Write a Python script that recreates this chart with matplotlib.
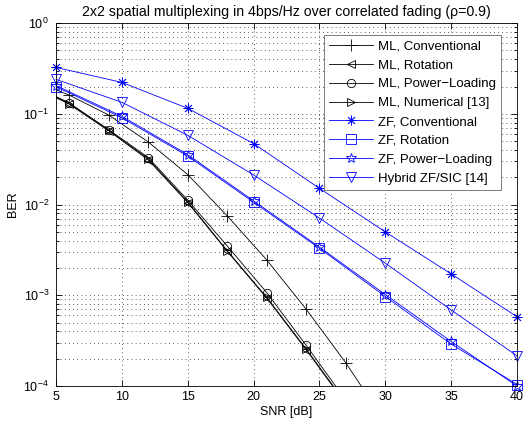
import matplotlib
matplotlib.use("Agg")
import matplotlib.pyplot as plt
from matplotlib.ticker import LogLocator, FixedLocator, NullFormatter

plt.rcParams["font.family"] = ["Liberation Sans", "DejaVu Sans"]
plt.rcParams["font.size"] = 8.5
plt.rcParams["mathtext.fontset"] = "custom"
plt.rcParams["mathtext.rm"] = "Liberation Sans"

# ZF curves are simulated every 5 dB, ML curves every 3 dB
snr_zf = [5, 10, 15, 20, 25, 30, 35, 40]
zf_conv = [0.325, 0.222, 0.115, 0.047, 0.0151, 5.0e-3, 1.72e-3, 5.8e-4]
zf_rot = [0.199, 0.0906, 0.0343, 0.0106, 3.3e-3, 9.7e-4, 2.9e-4, 1.04e-4]
zf_pl = [0.205, 0.094, 0.0355, 0.011, 3.4e-3, 1.02e-3, 3.1e-4, 1.0e-4]
hybrid = [0.24, 0.134, 0.058, 0.0212, 7.1e-3, 2.26e-3, 6.9e-4, 2.15e-4]

snr_ml = [3, 6, 9, 12, 15, 18, 21, 24, 27, 30]
ml_conv = [0.24, 0.161, 0.097, 0.049, 0.0214, 7.5e-3, 2.45e-3, 7.0e-4, 1.8e-4, 4e-5]
ml_rot = [0.21, 0.128, 0.065, 0.031, 0.0105, 3.05e-3, 9.3e-4, 2.5e-4, 6.3e-5, 1.5e-5]
ml_pl = [0.215, 0.132, 0.067, 0.033, 0.0112, 3.5e-3, 1.07e-3, 2.8e-4, 7e-5, 1.7e-5]
ml_num = [0.21, 0.129, 0.066, 0.032, 0.0107, 3.1e-3, 9.5e-4, 2.55e-4, 6.5e-5, 1.6e-5]

labels = ["ML, Conventional", "ML, Rotation", "ML, Power\u2212Loading",
          "ML, Numerical [13]", "ZF, Conventional", "ZF, Rotation",
          "ZF, Power\u2212Loading", "Hybrid ZF/SIC [14]"]

fig = plt.figure(figsize=(5.26, 4.28), dpi=100)
ax = fig.add_axes([0.1065, 0.098, 0.8765, 0.848])

lw = 0.6
mk = dict(markerfacecolor="none", markeredgewidth=0.6)
ax.semilogy(snr_ml, ml_conv, "k-", marker="+", ms=8, lw=lw, label=labels[0], **mk)
ax.semilogy(snr_ml, ml_rot, "k-", marker="<", ms=6, lw=lw, label=labels[1], **mk)
ax.semilogy(snr_ml, ml_pl, "k-", marker="o", ms=6, lw=lw, label=labels[2], **mk)
ax.semilogy(snr_ml, ml_num, "k-", marker=">", ms=6, lw=lw, label=labels[3], **mk)
ax.semilogy(snr_zf, zf_conv, "b-", marker=(8, 2, 0), ms=7, lw=lw, label=labels[4],
            clip_on=False, **mk)
ax.semilogy(snr_zf, zf_rot, "b-", marker="s", ms=7, lw=lw, label=labels[5],
            clip_on=False, **mk)
ax.semilogy(snr_zf, zf_pl, "b-", marker="*", ms=7, lw=lw, label=labels[6],
            clip_on=False, **mk)
ax.semilogy(snr_zf, hybrid, "b-", marker="v", ms=7, lw=lw, label=labels[7],
            clip_on=False, **mk)

ax.set_xlim(5, 40)
ax.set_ylim(1e-4, 1)
ax.xaxis.set_major_locator(FixedLocator([5, 10, 15, 20, 25, 30, 35, 40]))
ax.yaxis.set_major_locator(LogLocator(base=10, numticks=10))
ax.yaxis.set_minor_locator(LogLocator(base=10, subs=range(2, 10), numticks=20))
ax.yaxis.set_minor_formatter(NullFormatter())

ax.tick_params(which="both", direction="in", top=True, right=True, width=0.6)
ax.tick_params(which="major", length=4, labelsize=9)
ax.tick_params(axis="y", which="major", pad=5)
ax.tick_params(which="minor", length=2)
ax.grid(True, which="major", ls=(0, (1, 4)), color="0.15", lw=0.6)
ax.grid(True, which="minor", axis="y", ls=(0, (1, 4)), color="0.15", lw=0.6)
for s in ax.spines.values():
    s.set_linewidth(0.6)

ax.set_xlabel("SNR [dB]", labelpad=2, fontsize=9)
ax.set_ylabel("BER", labelpad=3, fontsize=9)
ax.set_title("2x2 spatial multiplexing in 4bps/Hz over correlated fading (\u03c1=0.9)",
             pad=5)

leg = ax.legend(loc="upper right", bbox_to_anchor=(0.979, 0.985), fancybox=False,
                edgecolor="0.4", framealpha=1, handlelength=3.3, handletextpad=0.35,
                labelspacing=0.5, borderpad=0.4, fontsize=9.5)
leg.get_frame().set_linewidth(0.6)

fig.savefig("out.png", dpi=100)
